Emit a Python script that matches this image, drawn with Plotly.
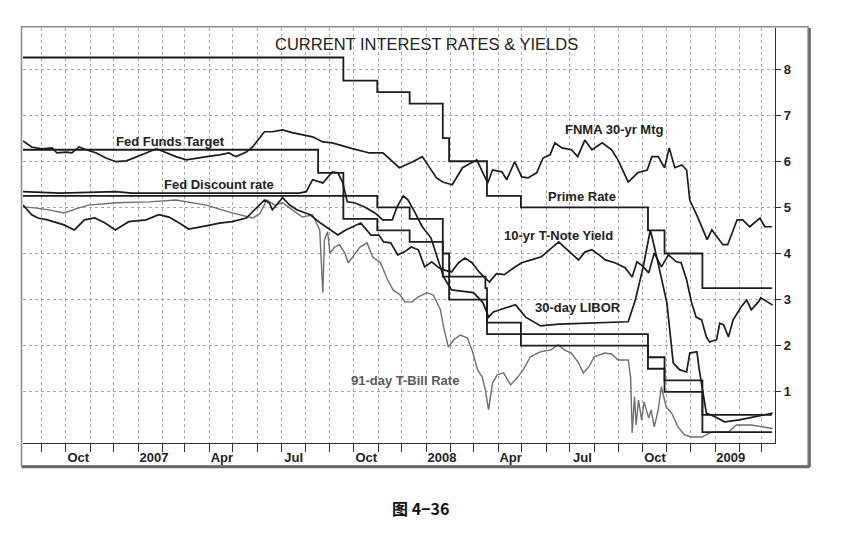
import plotly.graph_objects as go

# --- data (percent) ---
prime_dates = ["2006-08-08", "2007-09-18", "2007-10-31", "2007-12-11", "2008-01-22", "2008-01-30",
               "2008-03-18", "2008-04-30", "2008-10-08", "2008-10-29", "2008-12-16", "2009-03-14"]
prime_vals = [8.25, 7.75, 7.50, 7.25, 6.50, 6.00, 5.25, 5.00, 4.50, 4.00, 3.25, 3.25]

disc_dates = ["2006-08-08", "2007-08-17", "2007-09-18", "2007-10-31", "2007-12-11", "2008-01-22", "2008-01-30",
              "2008-03-16", "2008-03-18", "2008-04-30", "2008-10-08", "2008-10-29", "2008-12-16", "2009-03-14"]
disc_vals = [6.25, 5.75, 5.25, 5.00, 4.75, 4.00, 3.50, 3.25, 2.50, 2.25, 1.75, 1.25, 0.50, 0.50]

ff_dates = ["2006-08-08", "2007-09-18", "2007-10-31", "2007-12-11", "2008-01-22", "2008-01-30",
            "2008-03-18", "2008-04-30", "2008-10-08", "2008-10-29", "2008-12-16", "2009-03-14"]
ff_vals = [5.25, 4.75, 4.50, 4.25, 3.50, 3.00, 2.25, 2.00, 1.50, 1.00, 0.125, 0.125]

fnma_dates = ["2006-08-08", "2006-08-19", "2006-09-01", "2006-09-14", "2006-09-20", "2006-10-02", "2006-10-09",
              "2006-10-18", "2006-10-27", "2006-11-09", "2006-11-21", "2006-12-04", "2006-12-17", "2006-12-29",
              "2007-01-11", "2007-01-24", "2007-02-06", "2007-02-18", "2007-03-03", "2007-03-16", "2007-03-29",
              "2007-04-14", "2007-04-26", "2007-05-05", "2007-05-18", "2007-05-26", "2007-06-04", "2007-06-10",
              "2007-06-20", "2007-07-03", "2007-07-15", "2007-07-28", "2007-08-10", "2007-08-23", "2007-09-04",
              "2007-09-26", "2007-10-21", "2007-11-07", "2007-11-28", "2007-12-15", "2007-12-27", "2008-01-14",
              "2008-01-22", "2008-02-03", "2008-02-16", "2008-03-05", "2008-03-19", "2008-03-25", "2008-04-06",
              "2008-04-12", "2008-04-22", "2008-05-01", "2008-05-09", "2008-05-20", "2008-05-28", "2008-06-06",
              "2008-06-12", "2008-06-21", "2008-07-03", "2008-07-11", "2008-07-20", "2008-07-29", "2008-08-11",
              "2008-08-23", "2008-08-31", "2008-09-13", "2008-09-25", "2008-10-07", "2008-10-13", "2008-10-21",
              "2008-10-29", "2008-11-04", "2008-11-11", "2008-11-20", "2008-11-26", "2008-11-30", "2008-12-10",
              "2008-12-22", "2008-12-28", "2009-01-11", "2009-01-17", "2009-01-29", "2009-02-05", "2009-02-14",
              "2009-02-27", "2009-03-05", "2009-03-14"]
fnma_vals = [6.44, 6.31, 6.27, 6.29, 6.18, 6.20, 6.18, 6.31, 6.25, 6.18, 6.07, 5.99, 6.01, 6.10,
             6.18, 6.27, 6.18, 6.10, 6.03, 6.07, 6.10, 6.14, 6.18, 6.10, 6.20, 6.31, 6.51, 6.64,
             6.64, 6.68, 6.62, 6.57, 6.53, 6.42, 6.40, 6.29, 6.18, 6.18, 5.86, 5.99, 6.10, 5.64,
             5.55, 5.49, 5.86, 6.03, 5.53, 5.81, 5.77, 5.60, 5.99, 5.66, 5.64, 5.75, 6.07, 6.14,
             6.40, 6.29, 6.25, 6.10, 6.46, 6.25, 6.40, 6.25, 6.03, 5.55, 5.75, 5.81, 6.10, 6.10,
             5.86, 6.29, 5.86, 5.92, 5.81, 5.16, 4.79, 4.30, 4.51, 4.19, 4.19, 4.73, 4.73, 4.58,
             4.77, 4.58, 4.58]

tnote_dates = ["2006-08-08", "2006-08-19", "2006-08-27", "2006-09-08", "2006-09-29", "2006-10-12", "2006-10-25",
               "2006-11-07", "2006-11-20", "2006-12-03", "2006-12-20", "2007-01-11", "2007-01-27", "2007-02-09",
               "2007-02-22", "2007-03-06", "2007-03-28", "2007-04-14", "2007-04-30", "2007-05-18", "2007-05-31",
               "2007-06-10", "2007-06-16", "2007-06-20", "2007-07-03", "2007-07-12", "2007-07-21", "2007-08-07",
               "2007-08-20", "2007-09-02", "2007-09-11", "2007-09-21", "2007-10-01", "2007-10-10", "2007-10-23",
               "2007-11-02", "2007-11-08", "2007-11-17", "2007-11-26", "2007-12-04", "2007-12-13", "2007-12-22",
               "2007-12-30", "2008-01-08", "2008-01-17", "2008-01-24", "2008-02-02", "2008-02-11", "2008-02-19",
               "2008-02-28", "2008-03-08", "2008-03-15", "2008-03-21", "2008-03-30", "2008-04-09", "2008-04-21",
               "2008-05-01", "2008-05-13", "2008-05-26", "2008-06-08", "2008-06-17", "2008-06-24", "2008-07-03",
               "2008-07-12", "2008-07-20", "2008-07-29", "2008-08-07", "2008-08-15", "2008-08-27", "2008-09-09",
               "2008-09-18", "2008-09-24", "2008-10-01", "2008-10-09", "2008-10-16", "2008-10-25", "2008-11-03",
               "2008-11-13", "2008-11-19", "2008-11-26", "2008-12-02", "2008-12-08", "2008-12-15", "2008-12-21",
               "2008-12-25", "2009-01-03", "2009-01-07", "2009-01-12", "2009-01-18", "2009-01-24", "2009-02-03",
               "2009-02-10", "2009-02-16", "2009-02-25", "2009-02-28", "2009-03-09", "2009-03-15"]
tnote_vals = [5.05, 4.84, 4.77, 4.73, 4.62, 4.51, 4.73, 4.77, 4.66, 4.51, 4.69, 4.73, 4.84, 4.79,
              4.66, 4.53, 4.60, 4.66, 4.69, 4.77, 4.99, 5.16, 5.10, 4.95, 5.21, 5.05, 4.95, 4.84,
              4.66, 4.51, 4.40, 4.51, 4.58, 4.66, 4.40, 4.40, 4.25, 4.23, 3.97, 4.03, 4.14, 4.08,
              3.71, 3.82, 3.69, 3.64, 3.60, 3.80, 3.90, 3.80, 3.60, 3.49, 3.38, 3.56, 3.54, 3.69,
              3.80, 3.86, 3.93, 4.12, 4.25, 4.14, 4.01, 3.86, 4.03, 4.08, 3.97, 3.86, 3.80, 3.69,
              3.49, 3.82, 3.73, 3.58, 4.01, 3.71, 3.97, 3.82, 3.80, 3.43, 2.95, 2.62, 2.56, 2.19,
              2.08, 2.13, 2.49, 2.45, 2.19, 2.56, 2.84, 2.99, 2.78, 2.95, 3.04, 2.95, 2.88]

libor_dates = ["2006-08-08", "2006-09-24", "2006-12-04", "2006-12-24", "2007-07-24", "2007-08-02", "2007-08-10",
               "2007-08-23", "2007-09-04", "2007-09-11", "2007-09-17", "2007-09-23", "2007-10-02", "2007-10-15",
               "2007-10-28", "2007-11-07", "2007-11-19", "2007-11-25", "2007-12-03", "2007-12-09", "2007-12-18",
               "2007-12-27", "2008-01-07", "2008-01-16", "2008-01-23", "2008-02-02", "2008-03-01", "2008-03-13",
               "2008-03-20", "2008-03-26", "2008-04-10", "2008-04-23", "2008-05-06", "2008-05-25", "2008-06-17",
               "2008-09-13", "2008-09-22", "2008-10-02", "2008-10-11", "2008-10-17", "2008-11-01", "2008-11-09",
               "2008-11-17", "2008-11-26", "2008-11-30", "2008-12-09", "2008-12-12", "2008-12-21", "2009-01-01",
               "2009-01-13", "2009-02-01", "2009-03-15"]
libor_vals = [5.34, 5.31, 5.34, 5.31, 5.31, 5.34, 5.60, 5.53, 5.77, 5.75, 5.55, 5.12, 5.10, 5.01,
              4.88, 4.73, 4.73, 5.01, 5.25, 5.16, 4.88, 4.58, 4.34, 3.86, 3.49, 3.21, 3.15, 2.93,
              2.62, 2.73, 2.82, 2.89, 2.62, 2.43, 2.47, 2.52, 2.99, 3.71, 4.51, 4.08, 2.93, 1.63,
              1.48, 1.43, 1.84, 1.87, 1.48, 0.54, 0.46, 0.35, 0.39, 0.54]

tbill_dates = ["2006-08-08", "2006-08-23", "2006-09-08", "2006-09-29", "2006-10-18", "2006-10-30", "2006-12-04",
               "2007-01-15", "2007-02-18", "2007-03-06", "2007-03-28", "2007-04-30", "2007-05-26", "2007-06-04",
               "2007-06-13", "2007-06-23", "2007-07-03", "2007-07-15", "2007-07-28", "2007-08-10", "2007-08-19",
               "2007-08-23", "2007-08-25", "2007-08-29", "2007-09-01", "2007-09-07", "2007-09-13", "2007-09-20",
               "2007-09-24", "2007-09-30", "2007-10-09", "2007-10-18", "2007-10-25", "2007-11-04", "2007-11-13",
               "2007-11-20", "2007-11-29", "2007-12-05", "2007-12-14", "2007-12-22", "2008-01-02", "2008-01-10",
               "2008-01-19", "2008-01-23", "2008-01-29", "2008-02-05", "2008-02-13", "2008-02-22", "2008-02-28",
               "2008-03-06", "2008-03-12", "2008-03-16", "2008-03-20", "2008-03-25", "2008-03-31", "2008-04-08",
               "2008-04-17", "2008-04-26", "2008-05-03", "2008-05-12", "2008-05-25", "2008-06-07", "2008-06-16",
               "2008-06-24", "2008-07-03", "2008-07-12", "2008-07-18", "2008-07-25", "2008-08-01", "2008-08-14",
               "2008-08-23", "2008-08-31", "2008-09-13", "2008-09-16", "2008-09-18", "2008-09-21", "2008-09-23",
               "2008-09-26", "2008-09-30", "2008-10-03", "2008-10-09", "2008-10-12", "2008-10-16", "2008-10-21",
               "2008-10-25", "2008-10-31", "2008-11-07", "2008-11-15", "2008-11-23", "2008-12-02", "2008-12-15",
               "2008-12-28", "2009-01-18", "2009-01-28", "2009-02-16", "2009-03-09", "2009-03-15"]
tbill_vals = [5.01, 4.99, 4.95, 4.88, 4.99, 5.05, 5.10, 5.12, 5.16, 5.12, 5.05, 4.88, 4.77, 4.86,
              5.16, 5.05, 5.10, 4.95, 4.79, 4.84, 4.51, 3.15, 4.30, 4.47, 4.01, 4.14, 4.19, 4.01,
              3.80, 3.93, 4.14, 4.23, 3.93, 3.80, 3.43, 3.21, 3.10, 2.95, 2.95, 3.06, 3.15, 3.10,
              2.78, 2.41, 1.97, 2.13, 2.23, 2.17, 1.91, 1.48, 1.32, 1.04, 0.61, 1.19, 1.37, 1.41,
              1.15, 1.32, 1.48, 1.76, 1.87, 1.91, 2.02, 1.91, 1.84, 1.63, 1.41, 1.54, 1.76, 1.84,
              1.82, 1.69, 1.69, 1.32, 0.11, 0.89, 0.28, 0.82, 0.39, 0.78, 0.43, 0.61, 0.24, 0.61,
              1.11, 0.67, 0.54, 0.24, 0.07, 0.02, 0.02, 0.13, 0.13, 0.28, 0.28, 0.22, 0.20]

tick_dates = ["2006-10-17", "2007-01-21", "2007-04-17", "2007-07-17", "2007-10-17",
              "2008-01-21", "2008-04-17", "2008-07-17", "2008-10-17", "2009-01-21"]
tick_text = ["Oct", "2007", "Apr", "Jul", "Oct", "2008", "Apr", "Jul", "Oct", "2009"]

# series labels written on the chart: (text, date, value)
label_text = ["Fed Funds Target", "Fed Discount rate", "FNMA 30-yr Mtg", "Prime Rate",
              "10-yr T-Note Yield", "30-day LIBOR", "91-day T-Bill Rate"]
label_x = ["2007-02-11", "2007-04-14", "2008-08-27", "2008-07-16", "2008-06-16", "2008-07-11", "2007-12-05"]
label_y = [6.42, 5.49, 6.68, 5.23, 4.40, 2.82, 1.24]

x_range = ["2006-08-08", "2009-03-18"]
DARK = "#1c1c1c"

fig = go.Figure()

fig.add_trace(go.Scatter(x=tbill_dates, y=tbill_vals, mode="lines",
                         line=dict(color="#6e6e6e", width=1.4)))
for xs, ys in [(tnote_dates, tnote_vals), (libor_dates, libor_vals), (fnma_dates, fnma_vals)]:
    fig.add_trace(go.Scatter(x=xs, y=ys, mode="lines", line=dict(color=DARK, width=1.7)))
for xs, ys in [(prime_dates, prime_vals), (disc_dates, disc_vals), (ff_dates, ff_vals)]:
    fig.add_trace(go.Scatter(x=xs, y=ys, mode="lines", line=dict(color=DARK, width=1.8, shape="hv")))

for t, xv, yv in zip(label_text, label_x, label_y):
    fig.add_annotation(x=xv, y=yv, text=t, showarrow=False,
                       font=dict(family="Liberation Sans", size=13, weight="bold",
                                 color="#5a5a5a" if t.startswith("91") else "#222"))

fig.add_annotation(x=0.537, y=0.961, xref="paper", yref="paper", xanchor="center", yanchor="middle",
                   text="CURRENT INTEREST RATES & YIELDS", showarrow=False,
                   font=dict(family="Liberation Sans", size=16.5, color="#222"))
fig.add_annotation(x=0.528, y=-0.157, xref="paper", yref="paper", xanchor="center", yanchor="middle",
                   text="图 4−36", showarrow=False,
                   font=dict(family="Noto Sans CJK SC", size=16, weight="bold", color="#111"))

# outer frame of the chart window
fig.add_shape(type="rect", xref="paper", yref="paper", x0=-0.002, x1=1.044, y0=-0.055, y1=1.003,
              line=dict(color="#8a8a8a", width=1.5))
fig.add_shape(type="line", xref="paper", yref="paper", x0=1.046, x1=1.046, y0=-0.058, y1=1.0,
              line=dict(color="#6a6a6a", width=2.5))
fig.add_shape(type="line", xref="paper", yref="paper", x0=-0.002, x1=1.046, y0=-0.058, y1=-0.058,
              line=dict(color="#6a6a6a", width=2.5))

grid = dict(color="#a8a8a8", dash="dot", width=1)

# page body has an 8px margin, so the figure is sized and offset to land the plot at the right pixels
fig.update_layout(
    width=841, height=525,
    margin=dict(l=15, r=74, t=20, b=90),
    paper_bgcolor="white", plot_bgcolor="white",
    showlegend=False,
    xaxis=dict(type="date", range=x_range, tickmode="array", tickvals=tick_dates, ticktext=tick_text,
               ticks="", showgrid=False, showline=True, linecolor="#333", linewidth=1.2,
               tickfont=dict(family="Liberation Sans", size=13, weight="bold", color="#222"),
               ticklabelstandoff=2,
               minor=dict(dtick="M1", tick0="2006-01-01", ticks="outside", ticklen=8,
                          tickcolor="#333", showgrid=True, gridcolor=grid["color"],
                          griddash=grid["dash"], gridwidth=grid["width"])),
    xaxis2=dict(type="date", range=x_range, overlaying="x", anchor="y", side="bottom",
                tickmode="linear", tick0="2006-08-06", dtick=7 * 86400000,
                ticks="outside", ticklen=4, tickcolor="#333", showticklabels=False, showgrid=False),
    yaxis=dict(range=[-0.11, 8.89], side="right", tickvals=[1, 2, 3, 4, 5, 6, 7, 8],
               ticks="outside", ticklen=5, tickcolor="#333", showline=True, linecolor="#333",
               linewidth=1.2, showgrid=True, gridcolor=grid["color"], griddash=grid["dash"],
               zeroline=False,
               tickfont=dict(family="Liberation Sans", size=13, weight="bold", color="#222")),
)

fig.write_html("out.html")
